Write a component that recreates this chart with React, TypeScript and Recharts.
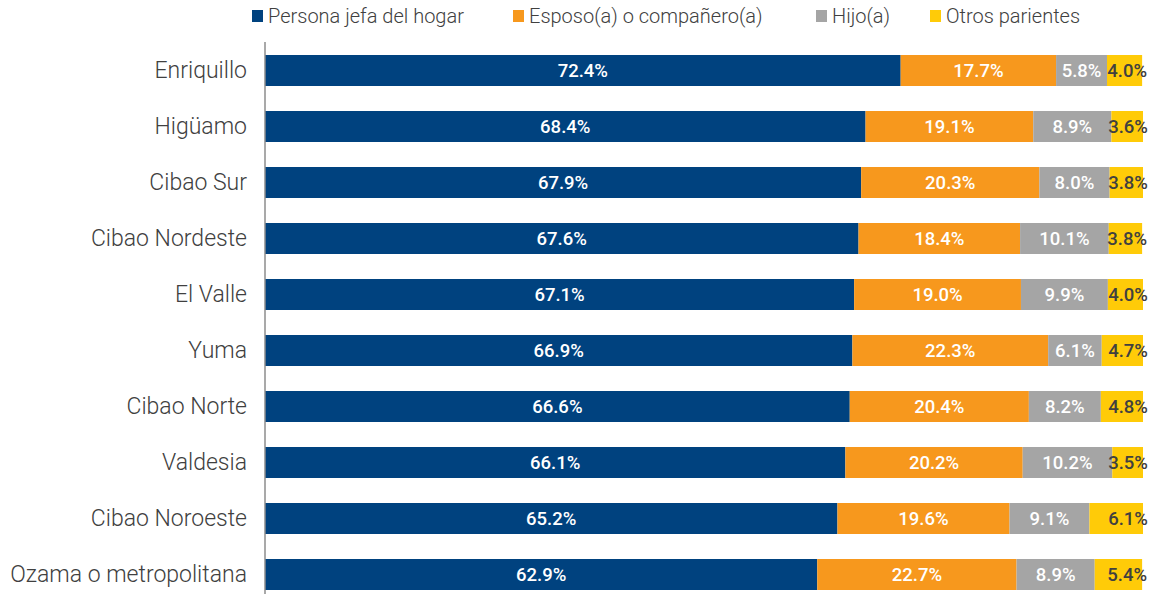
import React from 'react';
import { BarChart, Bar, XAxis, YAxis, Legend, LabelList } from 'recharts';

const regions = [
  'Enriquillo',
  'Higüamo',
  'Cibao Sur',
  'Cibao Nordeste',
  'El Valle',
  'Yuma',
  'Cibao Norte',
  'Valdesia',
  'Cibao Noroeste',
  'Ozama o metropolitana',
];
const jefe = [72.4, 68.4, 67.9, 67.6, 67.1, 66.9, 66.6, 66.1, 65.2, 62.9];
const esposo = [17.7, 19.1, 20.3, 18.4, 19.0, 22.3, 20.4, 20.2, 19.6, 22.7];
const hijo = [5.8, 8.9, 8.0, 10.1, 9.9, 6.1, 8.2, 10.2, 9.1, 8.9];
const otros = [4.0, 3.6, 3.8, 3.8, 4.0, 4.7, 4.8, 3.5, 6.1, 5.4];

const series = [
  { key: 'jefe', name: 'Persona jefa del hogar', color: '#00427F' },
  { key: 'esposo', name: 'Esposo(a) o compañero(a)', color: '#F7981D' },
  { key: 'hijo', name: 'Hijo(a)', color: '#A5A5A5' },
  { key: 'otros', name: 'Otros parientes', color: '#FFCB08' },
];

const data = regions.map((r, i) => ({
  region: r,
  jefe: jefe[i],
  esposo: esposo[i],
  hijo: hijo[i],
  otros: otros[i],
}));

const FONT = 'Roboto, "Noto Sans", sans-serif';
const pct = (v: any) => `${Number(v).toFixed(1)}%`;

// x of each legend swatch
const legendX = [252, 513, 816, 930];

const TopLegend = () => (
  <div
    style={{
      position: 'relative',
      height: 32,
      fontFamily: FONT,
      fontSize: 20,
      fontWeight: 300,
      color: '#404040',
      whiteSpace: 'nowrap',
    }}
  >
    {series.map((s, i) => (
      <div
        key={s.key}
        style={{ position: 'absolute', left: legendX[i], top: 0, height: 32, display: 'flex', alignItems: 'center' }}
      >
        <span style={{ display: 'inline-block', width: 11, height: 12, background: s.color, marginRight: 5 }} />
        <span>{s.name}</span>
      </div>
    ))}
  </div>
);

const OtrosLabel = (props: any) => {
  const { x, y, width, height, value } = props;
  return (
    <text
      x={x + width + 5}
      y={y + height / 2}
      textAnchor="end"
      dominantBaseline="central"
      fill="#404040"
      fontFamily={FONT}
      fontSize={18.5}
      fontWeight={500}
    >
      {pct(value)}
    </text>
  );
};

export default function App() {
  return (
    <div style={{ position: 'absolute', left: 0, top: 0, width: 1155, height: 594, overflow: 'hidden', background: '#fff' }}>
      <BarChart
        width={1155}
        height={602}
        data={data}
        layout="vertical"
        barSize={31}
        margin={{ top: 0, right: 12, bottom: 0, left: 0 }}
      >
        <XAxis type="number" domain={[0, 100]} hide />
        <YAxis
          type="category"
          dataKey="region"
          width={265}
          tickLine={false}
          tickSize={0}
          tickMargin={18}
          axisLine={{ stroke: '#8C8C8C', strokeWidth: 1.5 }}
          tick={{ fill: '#404040', fontSize: 23, fontFamily: FONT, fontWeight: 300 }}
          interval={0}
        />
        <Legend verticalAlign="top" align="left" height={42} width={1155} wrapperStyle={{ left: 0 }} content={() => <TopLegend />} />
        {series.map((s) => (
          <Bar key={s.key} dataKey={s.key} name={s.name} stackId="a" fill={s.color} isAnimationActive={false}>
            {s.key === 'otros' ? (
              <LabelList dataKey={s.key} content={<OtrosLabel />} />
            ) : (
              <LabelList
                dataKey={s.key}
                position="center"
                formatter={pct}
                fill="#FFFFFF"
                style={{ fontFamily: FONT, fontSize: 18.5, fontWeight: 500 }}
              />
            )}
          </Bar>
        ))}
      </BarChart>
    </div>
  );
}
